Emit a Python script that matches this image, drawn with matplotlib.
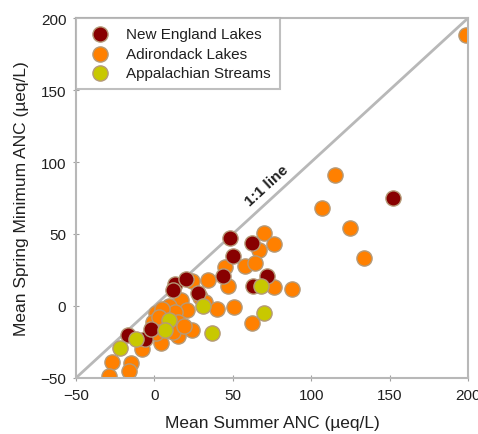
import numpy as np
import matplotlib.pyplot as plt

plt.rcParams['font.family'] = ['Liberation Sans', 'DejaVu Sans']

# Mean summer ANC (x) vs mean spring minimum ANC (y), ueq/L
ne_x = [152, 48, 62, 50, 44, 72, 63, 13, 12, 20, 28, -17, -6, -2]
ne_y = [75, 47, 44, 35, 21, 21, 14, 15, 11, 19, 9, -20, -23, -16]

adk_x = [199, 115, 107, 125, 134, 70, 76, 67, 58, 64, 45, 47, 76, 88,
         34, 24, 29, 32, 40, 51, 62, 17, 21, 9, 1, 13, 15, -1, 24, 15,
         4, 1, 6, 12, -8, -27, -15, -16, -29, 5, 3, 19]
adk_y = [188, 91, 68, 54, 33, 51, 43, 39, 28, 30, 27, 14, 13, 12,
         18, 17, 6, 3, -2, -1, -12, 4, -3, 0, -5, -4, -11, -11, -17, -21,
         -26, -19, -15, -18, -30, -39, -40, -45, -49, -2, -8, -14]

app_x = [68, 31, 70, 9, 7, 37, -12, -22]
app_y = [14, 0, -5, -10, -17, -19, -23, -29]

ticks = [-50, 0, 50, 100, 150, 200]

fig = plt.figure(figsize=(4.78, 4.35), dpi=100)
ax = fig.add_axes([0.159, 0.129, 0.82, 0.827])

ax.plot([-50, 200], [-50, 200], color='#b8b8b8', lw=2, zorder=1)
ax.text(72, 84, '1:1 line', rotation=42.5, ha='center', va='center',
        fontsize=11, color='#202020', fontweight='bold')

edge = '#b59a78'
ax.scatter(ne_x, ne_y, s=120, color='#880000', edgecolor=edge, lw=1,
           label='New England Lakes', zorder=3)
ax.scatter(adk_x, adk_y, s=120, color='#ff8000', edgecolor=edge, lw=1,
           label='Adirondack Lakes', zorder=2)
ax.scatter(app_x, app_y, s=120, color='#c8c800', edgecolor=edge, lw=1,
           label='Appalachian Streams', zorder=4)

ax.set_xlim(-50, 200)
ax.set_ylim(-50, 200)
ax.set_xticks(ticks)
ax.set_yticks(ticks)
ax.tick_params(direction='inout', length=4, color='#a0a0a0', labelsize=11,
               labelcolor='#202020', pad=5)
for s in ax.spines.values():
    s.set_color('#b8b8b8')
    s.set_linewidth(1.5)

ax.set_xlabel('Mean Summer ANC (µeq/L)', fontsize=12.5, color='#202020',
              labelpad=10)
ax.set_ylabel('Mean Spring Minimum ANC (µeq/L)', fontsize=12.5, color='#202020',
              labelpad=8)

leg = ax.legend(loc='upper left', bbox_to_anchor=(0.0, 1.0), fontsize=11,
                frameon=True, fancybox=False, borderaxespad=0, handletextpad=0.7,
                labelspacing=0.35, borderpad=0.6)
leg.get_frame().set_edgecolor('#b0b0b0')
leg.get_frame().set_linewidth(1.5)
for t in leg.get_texts():
    t.set_color('#202020')

fig.savefig('out.png', dpi=100)
